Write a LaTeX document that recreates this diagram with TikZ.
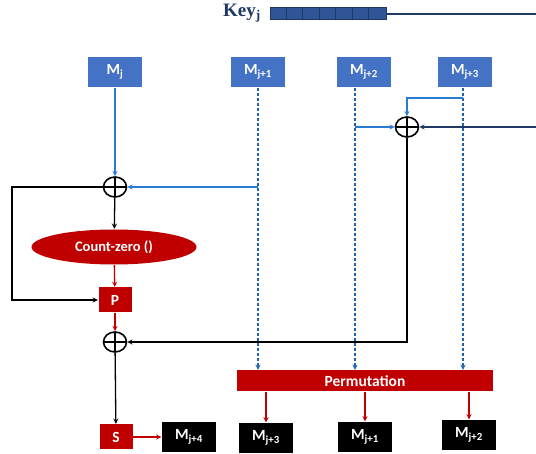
\documentclass[tikz,border=0pt]{standalone}
\usepackage{fontspec}
\setmainfont{Carlito}
\newfontfamily\keyfont{Liberation Serif}
\usetikzlibrary{shapes.geometric,arrows.meta}
\definecolor{mblue}{HTML}{4472C4}
\definecolor{lblue}{HTML}{2A7BD4}
\definecolor{dred}{HTML}{C00000}
\definecolor{navy}{HTML}{203864}
\definecolor{keyblue}{HTML}{2F5597}

\begin{document}
\begin{tikzpicture}[x=1pt,y=-1pt,line width=1.3pt,
  blk/.style={text=white,font=\bfseries\fontsize{15.5}{17}\selectfont,minimum width=54,minimum height=30,inner sep=0},
  inblk/.style={blk,fill=mblue},
  outblk/.style={blk,fill=black},
  redblk/.style={blk,fill=dred,minimum width=33,minimum height=25},
  xor/.style={ellipse,draw,line width=1.6pt,minimum width=23,minimum height=20,inner sep=0,
    path picture={\draw[line width=1.6pt] (path picture bounding box.north)--(path picture bounding box.south)
      (path picture bounding box.west)--(path picture bounding box.east);}}]
  \useasboundingbox (0,0) rectangle (536,454);

  \node[font=\keyfont\bfseries\fontsize{19}{21}\selectfont,text=navy] at (242,13) {Key\textsubscript{j}};
  \node (key) [fill=keyblue,draw=navy,line width=1pt,minimum width=116,minimum height=12,inner sep=0] at (328,14) {};
  \foreach \i in {1,...,6}
    \draw[navy,line width=1pt] ([xshift=\i*16.57pt]key.south west) -- ([xshift=\i*16.57pt]key.north west);
  \coordinate (kout) at (536,14);
  \draw[navy] (key.east) -- (kout);

  \node (mj) [inblk] at (115,72) {M\textsubscript{j}};
  \node (m1) [inblk] at (258,72) {M\textsubscript{j+1}};
  \node (m2) [inblk] at (364,72) {M\textsubscript{j+2}};
  \node (m3) [inblk] at (465,72) {M\textsubscript{j+3}};

  \node (x1) [xor] at (115,187) {};
  \node (x2) [xor] at (407,127) {};
  \node (x3) [xor] at (115,342) {};

  \node (cz) [ellipse,fill=dred,text=white,font=\bfseries\fontsize{14.5}{16}\selectfont,minimum width=165,minimum height=35,inner sep=0] at (114,247) {Count-zero ()};
  \node (p) [redblk] at (115,300) {P};
  \node (s) [redblk] at (116,437) {S};
  \node (m4) [outblk] at (189,437) {M\textsubscript{j+4}};

  \node (perm) [blk,fill=dred,minimum width=256,minimum height=21] at (365,381) {Permutation};
  \node (o3) [outblk] at (266,438) {M\textsubscript{j+3}};
  \node (o1) [outblk] at (365,437) {M\textsubscript{j+1}};
  \node (o2) [outblk] at (469,435) {M\textsubscript{j+2}};

  \coordinate (t3) at (463,98);
  \coordinate (kin) at (536,127);
  \coordinate (fb) at (12,187);

  \path[-stealth,lblue]
    (mj) edge (x1)
    (258,187) edge (x1)
    (355,127) edge (x2);
  \path[-stealth,lblue!80!black,dash pattern=on 3pt off 2pt]
    (m1.south -| 258,0) edge (perm.north -| 258,0)
    (m2.south -| 355,0) edge (perm.north -| 355,0)
    (m3.south -| 463,0) edge (perm.north -| 463,0);
  \draw[-stealth,lblue] (t3) -| (x2);
  \draw[-stealth,navy] (kin) -- (x2);

  \path[-stealth]
    (x1) edge (cz)
    (x3) edge (s);
  \draw[-stealth] (x1) -- (fb) |- (p);
  \draw[-stealth] (x2) |- (x3);

  \path[-stealth,dred]
    (cz) edge (p)
    (p) edge (x3)
    (s) edge (m4)
    (perm.south -| o3) edge (o3)
    (perm.south -| o1) edge (o1)
    (perm.south -| o2) edge (o2);
\end{tikzpicture}
\end{document}
